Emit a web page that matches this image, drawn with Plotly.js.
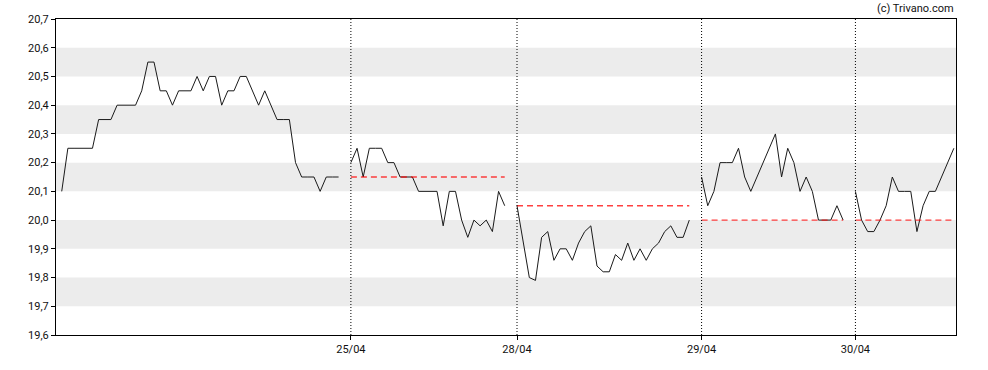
<!DOCTYPE html>
<html>
<head>
<meta charset="utf-8">
<script src="https://cdn.plot.ly/plotly-3.0.1.min.js"></script>
<style>
html,body{margin:0;padding:0;background:#fff;}
#chart{width:988px;height:370px;}
</style>
</head>
<body>
<div id="chart"></div>
<script>
// Intraday prices per session (ordinal point positions)
const day1 = [20.10,20.25,20.25,20.25,20.25,20.25,20.35,20.35,20.35,20.40,20.40,20.40,20.40,20.45,20.55,20.55,
  20.45,20.45,20.40,20.45,20.45,20.45,20.50,20.45,20.50,20.50,20.40,20.45,20.45,20.50,20.50,20.45,20.40,20.45,
  20.40,20.35,20.35,20.35,20.20,20.15,20.15,20.15,20.10,20.15,20.15,20.15];
const day2 = [20.20,20.25,20.15,20.25,20.25,20.25,20.20,20.20,20.15,20.15,20.15,20.10,20.10,20.10,20.10,19.98,
  20.10,20.10,20.00,19.94,20.00,19.98,20.00,19.96,20.10,20.05];
const day3 = [20.05,19.92,19.80,19.79,19.94,19.96,19.86,19.90,19.90,19.86,19.92,19.96,19.98,19.84,19.82,19.82,
  19.88,19.86,19.92,19.86,19.90,19.86,19.90,19.92,19.96,19.98,19.94,19.94,20.00];
const day4 = [20.15,20.05,20.10,20.20,20.20,20.20,20.25,20.15,20.10,20.15,20.20,20.25,20.30,20.15,20.25,20.20,
  20.10,20.15,20.10,20.00,20.00,20.00,20.05,20.00];
const day5 = [20.10,20.00,19.96,19.96,20.00,20.05,20.15,20.10,20.10,20.10,19.96,20.05,20.10,20.10,20.15,20.20,20.25];
const days = [day1, day2, day3, day4, day5];
// Previous close reference for sessions 2..5
const prevClose = [null, 20.15, 20.05, 20.00, 20.00];
const dayLabels = ["", "25/04", "28/04", "29/04", "30/04"];
const yTicks = [19.6,19.7,19.8,19.9,20.0,20.1,20.2,20.3,20.4,20.5,20.6,20.7];
const bands = [[19.7,19.8],[19.9,20.0],[20.1,20.2],[20.3,20.4],[20.5,20.6]];

const traces = [];
const starts = [];
let pos = 0;
days.forEach((d, i) => {
  starts.push(pos);
  const xs = d.map((_, j) => pos + j);
  traces.push({x: xs, y: d, type: 'scatter', mode: 'lines',
    line: {color: '#1a1a1a', width: 1}, hoverinfo: 'skip', showlegend: false});
  if (prevClose[i] !== null) {
    traces.push({x: [pos, pos + d.length - 1], y: [prevClose[i], prevClose[i]], type: 'scatter', mode: 'lines',
      line: {color: 'rgba(255,0,0,0.75)', width: 1.3, dash: '6px,4px'}, hoverinfo: 'skip', showlegend: false});
  }
  pos += d.length + 1;
});
const lastX = pos - 2;

const shapes = [];
bands.forEach(b => shapes.push({type: 'rect', xref: 'paper', yref: 'y', x0: 0, x1: 1, y0: b[0], y1: b[1],
  fillcolor: '#ececec', line: {width: 0}, layer: 'below'}));
starts.slice(1).forEach(s => shapes.push({type: 'line', xref: 'x', yref: 'paper', x0: s, x1: s, y0: 0, y1: 1,
  line: {color: '#000', width: 1, dash: '1px,2px'}}));

const layout = {
  width: 988, height: 370,
  margin: {l: 56, r: 32, t: 19, b: 35},
  paper_bgcolor: '#fff', plot_bgcolor: 'rgba(0,0,0,0)',
  separators: ',.',
  font: {family: 'Roboto, "Liberation Sans", sans-serif', size: 11, color: '#111'},
  xaxis: {range: [-0.93, lastX + 0.35], showgrid: false, zeroline: false,
    tickmode: 'array', tickvals: starts.slice(1), ticktext: dayLabels.slice(1),
    ticks: 'outside', ticklen: 4, tickcolor: '#000', showline: true, linecolor: '#000', linewidth: 1, mirror: true,
    tickfont: {size: 11, color: '#111'}},
  yaxis: {range: [19.6, 20.7], showgrid: false, zeroline: false,
    tickmode: 'array', tickvals: yTicks, ticktext: yTicks.map(v => v.toFixed(1).replace('.', ',')),
    ticks: 'outside', ticklen: 4, tickcolor: '#000', showline: true, linecolor: '#000', linewidth: 1, mirror: true,
    tickfont: {size: 11, color: '#111'}},
  shapes: shapes,
  annotations: [{text: '(c) Trivano.com', xref: 'paper', yref: 'paper', x: 1, y: 1, xanchor: 'right', yanchor: 'bottom',
    yshift: 2, showarrow: false, font: {size: 11, color: '#111'}}]
};

Plotly.newPlot('chart', traces, layout, {displayModeBar: false, staticPlot: true});
</script>
</body>
</html>
